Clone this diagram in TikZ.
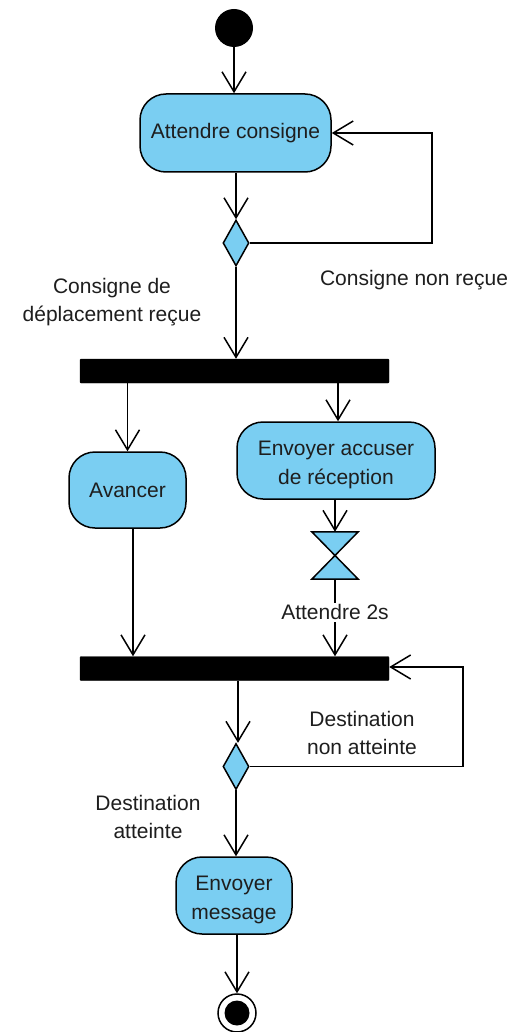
\documentclass[tikz,border=0pt]{standalone}
\usepackage{fontspec}
\setmainfont{Liberation Sans}
\usetikzlibrary{arrows.meta,shapes.geometric}
\definecolor{actfill}{RGB}{122,206,242}
\definecolor{txt}{RGB}{30,30,30}
\begin{document}
\begin{tikzpicture}[x=1pt,y=-1pt,
  every node/.style={font=\fontsize{21}{28.5}\selectfont, text=txt},
  act/.style={draw, fill=actfill, rounded corners=26pt, line width=1.5pt, align=center, inner sep=0pt},
  bar/.style={fill=black, draw=black, rounded corners=1pt, minimum width=309pt, minimum height=24pt, inner sep=0pt},
  dec/.style={diamond, draw, fill=actfill, line width=1.5pt, minimum width=26pt, minimum height=46pt, inner sep=0pt},
  flow/.style={line width=1.5pt, -{Straight Barb[length=20pt,width=24pt]}},
  lbl/.style={align=center}
]
\useasboundingbox[fill=white] (0,0) rectangle (520,1032);

\node[circle, fill=black, minimum size=38pt, inner sep=0pt] (init) at (234,28) {};
\node[act, minimum width=191pt, minimum height=78pt] (att) at (235.5,133) {Attendre consigne};
\node[dec] (d1) at (236,243) {};
\node[bar] (fork) at (234.5,371) {};
\node[act, minimum width=117pt, minimum height=76pt] (av) at (127.5,490) {Avancer};
\node[act, minimum width=198pt, minimum height=77pt] (acc) at (336,460.5) {\rule{0pt}{23pt}Envoyer accuser\\de réception};
\node[minimum width=46pt, minimum height=47pt, inner sep=0pt] (hg) at (335,555.5) {};
\filldraw[fill=actfill, line width=1.5pt, line join=miter] (hg.north west) -- (hg.north east) -- (hg.south west) -- (hg.south east) -- cycle;
\node[bar] (join) at (234.5,668.5) {};
\node[dec] (d2) at (236,766.5) {};
\node[act, minimum width=116pt, minimum height=77pt] (msg) at (234,895.5) {\rule{0pt}{23pt}Envoyer\\message};
\node[circle, draw, line width=1.5pt, minimum size=38pt, inner sep=0pt] (fin) at (237,1013) {};
\node[circle, fill=black, minimum size=25pt, inner sep=0pt] (finin) at (fin.center) {};

\node[lbl] (l1) at (414,280) {Consigne non reçue};
\node[lbl] (l2) at (112,302) {Consigne de\\déplacement reçue};
\node[lbl] (l3) at (362,733) {Destination\\non atteinte};
\node[lbl] (l4) at (148,817) {Destination\\atteinte};

\draw[flow] (init) -- (init |- att.north);
\draw[flow] (d1 |- att.south) -- (d1.north);
\draw[flow] (d1.east) -- ++(182,0) |- (att.east);
\draw[flow] (d1.south) -- (d1.south |- fork.north);
\draw[flow] (av.north |- fork.south) -- (av.north);
\draw[flow] ([xshift=2pt]acc.north |- fork.south) -- ([xshift=2pt]acc.north);
\draw[flow] (hg |- acc.south) -- (hg.north);
\draw[flow] (hg.south) -- node[pos=0.43, fill=white, inner sep=2pt] (l5) {Attendre 2s} (hg.south |- join.north);
\draw[flow] ([xshift=5.5pt]av.south) -- ([xshift=5.5pt]av.south |- join.north);
\draw[flow] ([xshift=2pt]d2 |- join.south) -- ([xshift=2pt]d2.north);
\draw[flow] (d2.east) -- ++(213,0) |- ([yshift=1.5pt]join.east);
\draw[flow] (d2.south) -- (d2.south |- msg.north);
\draw[flow] (fin |- msg.south) -- (fin.north);
\end{tikzpicture}
\end{document}
